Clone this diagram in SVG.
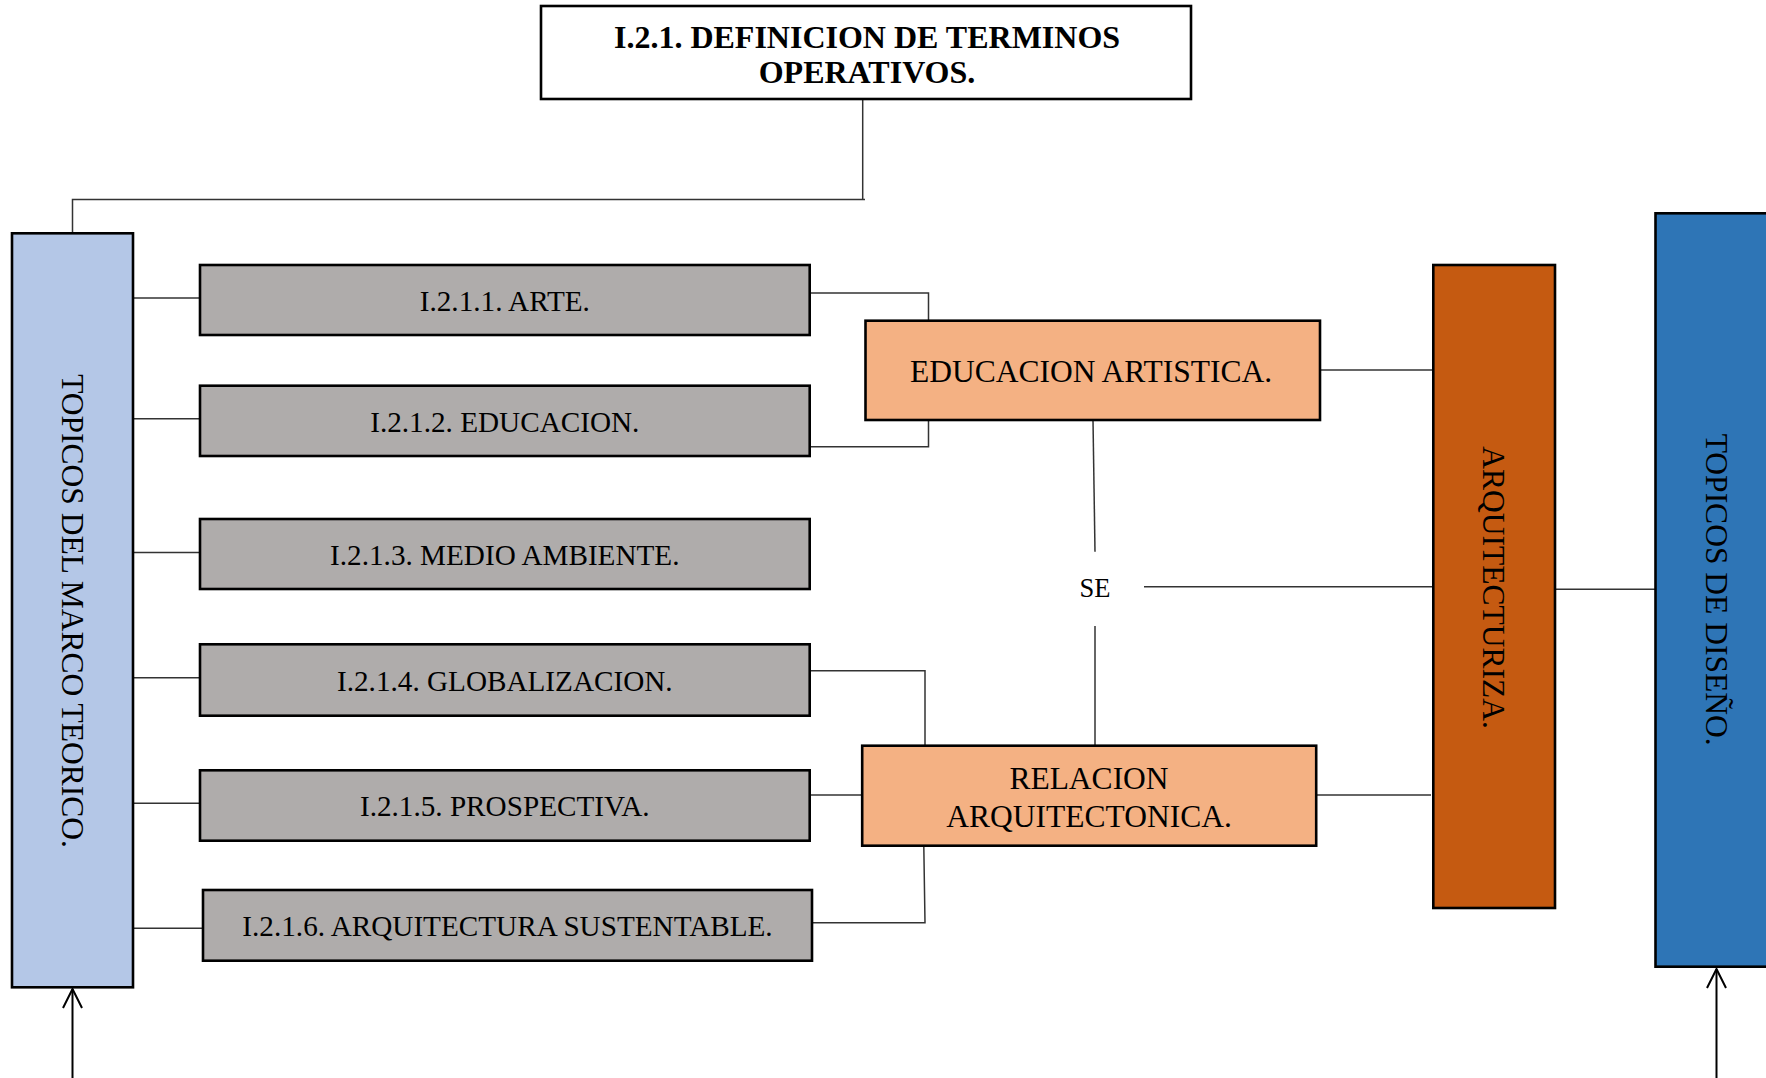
<svg xmlns="http://www.w3.org/2000/svg" width="1766" height="1078" viewBox="0 0 1766 1078">
<style>
.box{stroke:#000;stroke-width:2.6}
.gray{fill:#afacab}
.org{fill:#f4b183}
.t{font-family:"Liberation Serif","Times New Roman",serif;fill:#000;text-anchor:middle}
.g{font-size:29.2px}
.o{font-size:31.5px}
.c{fill:none;stroke:#333;stroke-width:1.5}
.a{fill:none;stroke:#000;stroke-width:2}
</style>
<defs>
<marker id="arr" markerUnits="userSpaceOnUse" markerWidth="26" markerHeight="26" refX="22" refY="12" orient="auto" viewBox="0 0 26 24">
<path d="M3,2.5 L22,12 L3,21.5" fill="none" stroke="#000" stroke-width="2"/>
</marker>
</defs>
<g id="connectors">
<polyline class="c" points="862.7,99 862.7,199.4"/>
<polyline class="c" points="72.5,233 72.5,199.4 865,199.4"/>
<line class="c" x1="133" y1="298" x2="200" y2="298"/>
<line class="c" x1="133" y1="418.7" x2="200" y2="418.7"/>
<line class="c" x1="133" y1="552.5" x2="200" y2="552.5"/>
<line class="c" x1="133" y1="677.7" x2="200" y2="677.7"/>
<line class="c" x1="133" y1="803.3" x2="200" y2="803.3"/>
<line class="c" x1="133" y1="928.3" x2="203" y2="928.3"/>
<polyline class="c" points="809.7,293 928.5,293 928.5,320.7"/>
<polyline class="c" points="809.7,446.7 928.5,446.7 928.5,420"/>
<polyline class="c" points="806,670.7 925,670.7 925,745.7"/>
<line class="c" x1="809.7" y1="795" x2="862" y2="795"/>
<polyline class="c" points="812,922.7 925,922.7 923.8,845.7"/>
<line class="c" x1="1093" y1="420" x2="1095" y2="551.7"/>
<line class="c" x1="1095" y1="626" x2="1095" y2="745.7"/>
<line class="c" x1="1320" y1="370" x2="1432" y2="370"/>
<line class="c" x1="1144" y1="586.7" x2="1432" y2="586.7"/>
<line class="c" x1="1316" y1="795" x2="1431" y2="795"/>
<line class="c" x1="1555" y1="589.3" x2="1655" y2="589.3"/>
<line class="a" x1="72.5" y1="1078" x2="72.5" y2="989" marker-end="url(#arr)"/>
<line class="a" x1="1716.5" y1="1078" x2="1716.5" y2="969" marker-end="url(#arr)"/>
</g>
<g id="title">
<rect class="box" x="541" y="6" width="650" height="93" fill="#fff"/>
<text class="t" x="867" y="47.5" style="font-size:32px;font-weight:bold">I.2.1. DEFINICION DE TERMINOS</text>
<text class="t" x="867" y="82.5" style="font-size:32px;font-weight:bold">OPERATIVOS.</text>
</g>
<g id="marco">
<rect class="box" x="12" y="233.3" width="121" height="754" fill="#b4c7e7"/>
<text class="t o" transform="translate(61.5,611) rotate(90)">TOPICOS DEL MARCO TEORICO.</text>
</g>
<g id="arte">
<rect class="box gray" x="200" y="265" width="609.7" height="70"/>
<text class="t g" x="504.8" y="310.7">I.2.1.1. ARTE.</text>
</g>
<g id="educacion">
<rect class="box gray" x="200" y="385.7" width="609.7" height="70.3"/>
<text class="t g" x="504.8" y="431.5">I.2.1.2. EDUCACION.</text>
</g>
<g id="medio">
<rect class="box gray" x="200" y="519" width="609.7" height="70"/>
<text class="t g" x="504.8" y="564.7">I.2.1.3. MEDIO AMBIENTE.</text>
</g>
<g id="global">
<rect class="box gray" x="200" y="644.3" width="609.7" height="71.4"/>
<text class="t g" x="504.8" y="690.7">I.2.1.4. GLOBALIZACION.</text>
</g>
<g id="prospectiva">
<rect class="box gray" x="200" y="770.3" width="609.7" height="70.4"/>
<text class="t g" x="504.8" y="816">I.2.1.5. PROSPECTIVA.</text>
</g>
<g id="sustentable">
<rect class="box gray" x="203" y="890" width="609" height="70.7"/>
<text class="t g" x="507.5" y="936">I.2.1.6. ARQUITECTURA SUSTENTABLE.</text>
</g>
<g id="edart">
<rect class="box org" x="865.5" y="320.7" width="454.5" height="99.3"/>
<text class="t o" x="1091" y="382.3">EDUCACION ARTISTICA.</text>
</g>
<g id="se">
<text class="t" x="1095" y="596.7" style="font-size:26.5px">SE</text>
</g>
<g id="relacion">
<rect class="box org" x="862.2" y="745.7" width="454" height="100"/>
<text class="t o" x="1089" y="788.5">RELACION</text>
<text class="t o" x="1089" y="827">ARQUITECTONICA.</text>
</g>
<g id="arquitecturiza">
<rect class="box" x="1433.3" y="265" width="121.7" height="643" fill="#c55a11"/>
<text class="t o" transform="translate(1483,587.5) rotate(90)">ARQUITECTURIZA.</text>
</g>
<g id="diseno">
<rect class="box" x="1655.5" y="213.3" width="125" height="753.4" fill="#2e75b6"/>
<text class="t o" transform="translate(1706,589.6) rotate(90)">TOPICOS DE DISEÑO.</text>
</g>
</svg>
